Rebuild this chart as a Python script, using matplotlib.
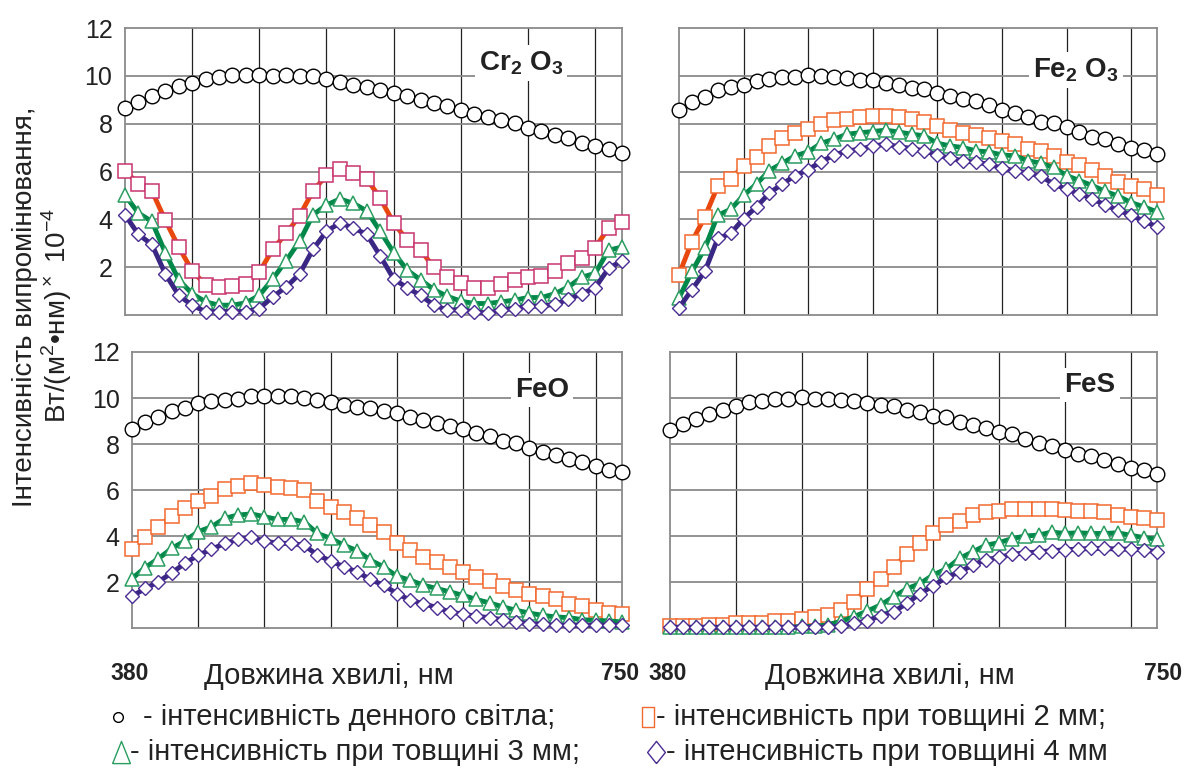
import numpy as np
import matplotlib
matplotlib.use('Agg')
import matplotlib.pyplot as plt
from matplotlib.lines import Line2D

plt.rcParams['font.family'] = ['Liberation Sans', 'DejaVu Sans']
plt.rcParams['mathtext.fontset'] = 'custom'
plt.rcParams['mathtext.rm'] = 'Liberation Sans'
plt.rcParams['mathtext.bf'] = 'Liberation Sans:bold'

wl = np.arange(380, 751, 10)

# Cr2O3
cr_day = [8.65,8.89,9.16,9.38,9.57,9.71,9.85,9.96,10.04,10.03,10.04,10.01,10.04,10.0,9.99,9.85,9.75,9.62,9.52,
          9.41,9.3,9.16,9.0,8.86,8.72,8.59,8.42,8.28,8.15,8.04,7.83,7.69,7.51,7.42,7.21,7.07,6.94,6.76]
cr_2mm = [6.02,5.49,5.19,3.96,2.84,1.85,1.26,1.17,1.2,1.3,1.79,2.75,3.41,4.15,5.19,5.84,6.11,5.93,5.7,
          4.88,3.85,3.13,2.71,1.99,1.58,1.33,1.14,1.14,1.3,1.47,1.58,1.65,1.85,2.16,2.4,2.82,3.64,3.89]
cr_3mm = [5.01,4.26,3.91,2.61,1.47,0.89,0.55,0.41,0.41,0.51,0.82,1.51,2.27,3.09,4.19,4.6,4.85,4.67,4.35,
          3.5,2.61,1.88,1.47,1.06,0.78,0.58,0.48,0.48,0.55,0.62,0.73,0.73,0.89,1.17,1.58,1.74,2.71,2.84]
cr_4mm = [4.19,3.37,2.95,1.72,0.82,0.41,0.14,0.14,0.14,0.14,0.27,0.76,1.17,1.72,2.75,3.5,3.85,3.64,3.37,
          2.47,1.51,1.14,0.82,0.41,0.21,0.21,0.14,0.07,0.21,0.27,0.37,0.37,0.45,0.65,0.89,1.14,1.95,2.27]

# Fe2O3
fe2_day = [8.56,8.9,9.12,9.39,9.53,9.63,9.79,9.86,9.94,9.94,10.03,10.0,9.94,9.9,9.83,9.81,9.72,9.63,9.49,
           9.45,9.28,9.14,9.03,8.94,8.76,8.59,8.45,8.29,8.07,8.01,7.86,7.65,7.44,7.35,7.14,7.0,6.91,6.73]
fe2_2mm = [1.69,3.07,4.1,5.39,5.69,6.24,6.59,7.07,7.38,7.6,7.76,7.97,8.15,8.2,8.29,8.34,8.34,8.29,8.2,
           8.07,7.9,7.73,7.62,7.51,7.38,7.28,7.14,6.96,6.86,6.63,6.38,6.27,6.08,5.83,5.58,5.41,5.25,5.0]
fe2_3mm = [0.72,1.82,2.79,4.17,4.42,5.0,5.48,6.04,6.35,6.66,6.82,7.18,7.35,7.56,7.62,7.67,7.73,7.65,7.56,
           7.49,7.18,7.07,7.0,6.86,6.82,6.69,6.66,6.45,6.35,6.17,5.83,5.62,5.41,5.17,4.97,4.7,4.52,4.31]
fe2_4mm = [0.3,1.06,1.82,3.2,3.41,4.03,4.52,5.1,5.48,5.83,6.08,6.41,6.69,6.86,6.93,7.07,7.14,7.04,6.96,
           6.86,6.69,6.55,6.45,6.38,6.31,6.13,6.04,5.94,5.8,5.48,5.25,5.07,4.86,4.59,4.38,4.17,3.92,3.69]

# FeO
feo_day = [8.65,8.94,9.17,9.42,9.56,9.78,9.85,9.9,9.97,10.07,10.07,10.07,10.07,10.0,9.9,9.81,9.71,9.61,9.56,
           9.42,9.35,9.17,9.03,8.91,8.8,8.65,8.48,8.33,8.12,8.04,7.83,7.64,7.53,7.34,7.2,7.05,6.88,6.8]
feo_2mm = [3.43,3.97,4.4,4.88,5.2,5.54,5.76,6.03,6.18,6.29,6.22,6.12,6.08,6.0,5.54,5.28,5.06,4.77,4.48,
           4.19,3.71,3.39,3.1,2.88,2.67,2.44,2.2,2.05,1.82,1.64,1.5,1.38,1.24,1.03,0.94,0.77,0.65,0.6]
feo_3mm = [2.15,2.63,3.02,3.46,3.79,4.19,4.4,4.77,4.91,4.96,4.84,4.72,4.72,4.62,4.11,3.9,3.6,3.36,2.95,
           2.66,2.25,2.08,1.86,1.72,1.57,1.42,1.24,1.09,0.92,0.77,0.65,0.55,0.48,0.45,0.36,0.33,0.31,0.26]
feo_4mm = [1.38,1.72,2.01,2.4,2.81,3.17,3.42,3.68,3.85,3.94,3.79,3.68,3.68,3.6,3.17,2.92,2.66,2.44,2.11,
           1.86,1.5,1.21,1.06,0.89,0.7,0.6,0.51,0.45,0.36,0.26,0.19,0.16,0.12,0.12,0.12,0.12,0.12,0.12]

# FeS
fes_day = [8.61,8.86,9.1,9.31,9.5,9.64,9.83,9.89,9.97,9.97,10.03,9.97,9.96,9.93,9.86,9.79,9.71,9.64,9.46,
           9.39,9.21,9.17,8.97,8.83,8.69,8.53,8.43,8.21,8.03,7.93,7.74,7.57,7.46,7.29,7.11,6.97,6.89,6.71]
fes_2mm = [0.07,0.07,0.07,0.14,0.14,0.21,0.21,0.21,0.31,0.31,0.4,0.46,0.57,0.79,1.14,1.71,2.11,2.64,3.21,
           3.71,4.11,4.46,4.64,4.93,5.03,5.1,5.19,5.19,5.19,5.19,5.11,5.07,5.07,5.03,4.93,4.83,4.79,4.69]
fes_3mm = [0.03,0.03,0.03,0.03,0.03,0.03,0.03,0.03,0.03,0.03,0.07,0.07,0.14,0.29,0.5,0.74,1.0,1.36,1.71,
           1.93,2.31,2.57,3.03,3.31,3.6,3.71,3.89,4.0,4.04,4.17,4.11,4.14,4.11,4.11,4.14,4.03,3.93,3.86]
fes_4mm = [0.03,0.03,0.03,0.03,0.03,0.03,0.03,0.03,0.03,0.03,0.03,0.03,0.03,0.07,0.21,0.31,0.54,0.71,1.07,
           1.5,1.83,2.21,2.43,2.74,2.97,3.07,3.21,3.26,3.31,3.36,3.4,3.43,3.46,3.46,3.43,3.43,3.4,3.31]

panels = [
    ('Cr', r'Cr$_\mathbf{2}$ O$_\mathbf{3}$', cr_day, cr_2mm, cr_3mm, cr_4mm),
    ('Fe2', r'Fe$_\mathbf{2}$ O$_\mathbf{3}$', fe2_day, fe2_2mm, fe2_3mm, fe2_4mm),
    ('FeO', 'FeO', feo_day, feo_2mm, feo_3mm, feo_4mm),
    ('FeS', 'FeS', fes_day, fes_2mm, fes_3mm, fes_4mm),
]

W, H = 1189, 771
# pixel boxes: left, right, top, bottom
boxes = [(125, 622, 28, 315), (679, 1157, 28, 315), (132, 622, 352, 628), (670, 1157, 352, 628)]
label_pos = [(0.797, 0.878), (0.83, 0.854), (0.837, 0.862), (0.862, 0.88)]

line_red = '#E8480E'
green = '#00874A'
green_edge = '#2A9D60'
purple = '#3A2683'
purple_edge = '#4B2C92'

fig = plt.figure(figsize=(W / 100, H / 100), dpi=100)

for i, (key, title, day, s2, s3, s4) in enumerate(panels):
    l, r, t, b = boxes[i]
    ax = fig.add_axes([l / W, 1 - b / H, (r - l) / W, (b - t) / H])
    ax.set_xlim(380, 750)
    ax.set_ylim(0, 12)
    for xv in range(430, 750, 50):
        ax.axvline(xv, color='#222222', lw=0.9, zorder=0)
    for yv in range(2, 12, 2):
        ax.axhline(yv, color='#8a8a8a', lw=1.3, zorder=0)
    for sp in ax.spines.values():
        sp.set_color('#8a8a8a')
        sp.set_linewidth(1.3)
    ax.set_xticks([])
    ax.set_yticks([2, 4, 6, 8, 10, 12])
    ax.tick_params(length=0, pad=9, labelsize=18, labelcolor='#222222')
    if i % 2 == 1:
        ax.set_yticklabels([])

    sq_edge = '#C8356E' if key == 'Cr' else '#F26A30'
    ax.plot(wl, day, color='black', lw=2.2, marker='o', ms=10.5, mfc='white', mec='black', mew=1.0,
            clip_on=False, zorder=3)
    ax.plot(wl, s2, color=line_red, lw=3.5, marker='s', ms=10, mfc='white', mec=sq_edge, mew=1.1,
            clip_on=False, zorder=4)
    ax.plot(wl, s3, color=green, lw=3.5, marker='^', ms=10, mfc='white', mec=green_edge, mew=1.1,
            clip_on=False, zorder=5)
    ax.plot(wl, s4, color=purple, lw=3.5, marker='D', ms=7, mfc='white', mec=purple_edge, mew=1.0,
            clip_on=False, zorder=6)

    ax.text(label_pos[i][0], label_pos[i][1], title, transform=ax.transAxes, ha='center', va='center',
            fontsize=20, fontweight='bold', color='#222222', zorder=7,
            bbox=dict(facecolor='white', edgecolor='none', pad=3))

# y label
fig.text(25 / W, 1 - 307 / H, 'Інтенсивність випромінювання,', rotation=90, ha='center', va='center',
         fontsize=20, color='#222222')
fig.text(57 / W, 1 - 315 / H, r'Вт/(м$^2$•нм)$^\times$ 10$^{-4}$', rotation=90, ha='center', va='center',
         fontsize=20, color='#222222')

# x axis texts
for x0, x1, xc in [(130, 620, 329), (668, 1163, 890)]:
    fig.text(x0 / W, 1 - 673 / H, '380', ha='center', va='center', fontsize=16.5, fontweight='bold',
             color='#222222')
    fig.text(x1 / W, 1 - 673 / H, '750', ha='center', va='center', fontsize=16.5, fontweight='bold',
             color='#222222')
    fig.text(xc / W, 1 - 676 / H, 'Довжина хвилі, нм', ha='center', va='center', fontsize=21,
             color='#222222')

# legend
rect = [(-0.6, -1), (0.6, -1), (0.6, 1), (-0.6, 1), (-0.6, -1)]
tri = [(-0.8, -1), (0.8, -1), (0, 1), (-0.8, -1)]
dia = [(0, -1), (0.8, 0), (0, 1), (-0.8, 0), (0, -1)]
leg = [
    (118, 717, 'o', 'black', 7, 143, '- інтенсивність денного світла;'),
    (648, 717, rect, '#F26A30', 15, 656, '- інтенсивність при товщині 2 мм;'),
    (121, 752, tri, green_edge, 16, 130, '- інтенсивність при товщині 3 мм;'),
    (656, 752, dia, purple_edge, 16, 666, '- інтенсивність при товщині 4 мм'),
]
for x, y, m, c, ms, tx, txt in leg:
    fig.add_artist(Line2D([x / W], [1 - y / H], marker=m, ms=ms, mfc='white', mec=c, mew=1.0,
                          transform=fig.transFigure))
    fig.text(tx / W, 1 - y / H, txt, ha='left', va='center', fontsize=21, color='#222222')

fig.savefig('out.png', dpi=100)
